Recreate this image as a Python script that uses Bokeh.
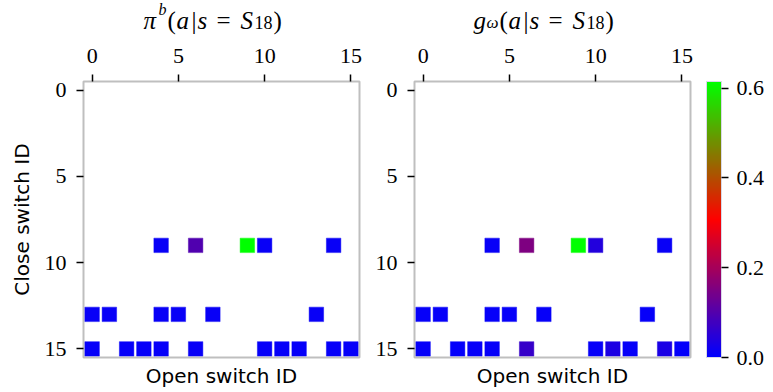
import numpy as np
from bokeh.plotting import figure
from bokeh.models import (ColumnDataSource, LinearColorMapper, ColorBar, FixedTicker,
                          PrintfTickFormatter, Range1d, LinearAxis)
from bokeh.core.properties import value
from bokeh.layouts import row, column
from bokeh.embed import file_html
from bokeh.resources import INLINE

# ---------------- data ----------------
close_switch_ids = [9, 9, 9, 9, 9,
                    13, 13, 13, 13, 13, 13,
                    15, 15, 15, 15, 15, 15, 15, 15, 15, 15]
open_switch_ids = [4, 6, 9, 10, 14,
                   0, 1, 4, 5, 7, 13,
                   0, 2, 3, 4, 6, 10, 11, 12, 14, 15]
pi_b_values = [0.012, 0.098, 0.615, 0.012, 0.012,
               0.010, 0.010, 0.010, 0.010, 0.010, 0.010,
               0.008, 0.008, 0.008, 0.008, 0.010, 0.008, 0.008, 0.008, 0.008, 0.008]
g_omega_values = [0.010, 0.152, 0.615, 0.042, 0.012,
                  0.008, 0.008, 0.008, 0.008, 0.008, 0.008,
                  0.008, 0.006, 0.008, 0.008, 0.065, 0.008, 0.034, 0.008, 0.032, 0.006]
axis_ticks = [0, 5, 10, 15]
colorbar_ticks = [0.0, 0.2, 0.4, 0.6]
value_low, value_high = 0.0, 0.615

# ---------------- colormap (matplotlib "brg") ----------------
def brg(t):
    if t <= 0.5:
        r, g, b = 2 * t, 0.0, 1 - 2 * t
    else:
        r, g, b = 2 - 2 * t, 2 * t - 1, 0.0
    return "#%02x%02x%02x" % (int(round(r * 255)), int(round(g * 255)), int(round(b * 255)))

palette = [brg(i / 255) for i in range(256)]
mapper = LinearColorMapper(palette=palette, low=value_low, high=value_high)

# ---------------- layout constants ----------------
W, H = 773, 392
TITLE_H = 35
FRAME = 276
TOP = 81 - TITLE_H
BOTTOM = H - TITLE_H - TOP - FRAME
SERIF = "Liberation Serif"
SANS = "DejaVu Sans"


def make_panel(vals, left, right, ylabel):
    p = figure(frame_width=FRAME, frame_height=FRAME,
               min_border_left=left, min_border_right=right,
               min_border_top=TOP, min_border_bottom=BOTTOM,
               x_range=Range1d(-0.5, 15.5), y_range=Range1d(15.5, -0.5),
               x_axis_location="above", toolbar_location=None,
               output_backend="svg", title=None)
    p.grid.visible = False
    p.outline_line_color = "#bfbfbf"
    p.outline_line_width = 2
    p.background_fill_color = "white"
    p.border_fill_color = "white"
    for ax in (p.xaxis[0], p.yaxis[0]):
        ax.ticker = FixedTicker(ticks=axis_ticks)
        ax.axis_line_color = None
        ax.major_tick_line_color = "black"
        ax.major_tick_line_width = 1.5
        ax.major_tick_out = 7
        ax.major_tick_in = 0
        ax.minor_tick_line_color = None
        ax.major_label_text_font = SERIF
        ax.major_label_text_font_size = "22px"
        ax.major_label_text_color = "black"
    p.xaxis.major_label_standoff = 12
    p.yaxis.major_label_standoff = 10
    if ylabel:
        p.yaxis.axis_label = ylabel
        p.yaxis.axis_label_text_font = SANS
        p.yaxis.axis_label_text_font_size = "20px"
        p.yaxis.axis_label_text_font_style = "normal"
        p.yaxis.axis_label_text_color = "black"
        p.yaxis.axis_label_standoff = 8

    bottom = LinearAxis(ticker=FixedTicker(ticks=[]), axis_line_color=None,
                        major_tick_line_color=None, minor_tick_line_color=None,
                        major_label_text_font_size="0px", major_tick_out=0,
                        major_tick_in=0, major_label_standoff=0,
                        axis_label="Open switch ID", axis_label_text_font=SANS,
                        axis_label_text_font_size="20px",
                        axis_label_text_font_style="normal",
                        axis_label_text_color="black", axis_label_standoff=6)
    p.add_layout(bottom, "below")

    src = ColumnDataSource(dict(x=open_switch_ids, y=close_switch_ids, v=vals))
    p.rect(x="x", y="y", width=0.84, height=0.84, source=src,
           fill_color={"field": "v", "transform": mapper},
           line_color={"field": "v", "transform": mapper},
           line_alpha=0.45, line_width=1)
    return p


# ---------------- title strip (math-like titles built from pieces) ----------------
BASE = 20
MAIN = "25px"
left_title = [
    ("π", 143, BASE, MAIN, "italic"),
    ("b", 158, BASE - 11, "16px", "italic"),
    ("(", 167, BASE, MAIN, "normal"),
    ("a", 176, BASE, MAIN, "italic"),
    ("|", 191, BASE, MAIN, "normal"),
    ("s", 197, BASE, MAIN, "italic"),
    ("=", 216, BASE, MAIN, "normal"),
    ("S", 240, BASE, MAIN, "italic"),
    ("18", 254, BASE + 2, "18px", "normal"),
    (")", 273, BASE, MAIN, "normal"),
]
right_title = [
    ("g", 473, BASE, MAIN, "italic"),
    ("ω", 486, BASE + 2, "17px", "italic"),
    ("(", 499, BASE, MAIN, "normal"),
    ("a", 508, BASE, MAIN, "italic"),
    ("|", 523, BASE, MAIN, "normal"),
    ("s", 529, BASE, MAIN, "italic"),
    ("=", 548, BASE, MAIN, "normal"),
    ("S", 572, BASE, MAIN, "italic"),
    ("18", 586, BASE + 2, "18px", "normal"),
    (")", 605, BASE, MAIN, "normal"),
]

tfig = figure(frame_width=W, frame_height=TITLE_H, min_border=0,
              x_range=Range1d(0, W), y_range=Range1d(TITLE_H, 0),
              x_axis_type=None, y_axis_type=None, toolbar_location=None,
              output_backend="svg", title=None)
tfig.grid.visible = False
tfig.outline_line_color = None
tfig.background_fill_color = "white"
tfig.border_fill_color = "white"
for txt, px, py, size, style in left_title + right_title:
    tfig.text(x=[px], y=[py], text=[txt], text_font=value(SERIF),
              text_font_size=size, text_font_style=style, text_align="left",
              text_baseline="alphabetic", text_color="black")

p1 = make_panel(pi_b_values, 83, 5, "Close switch ID")
p2 = make_panel(g_omega_values, 50, 83, None)

cb = ColorBar(color_mapper=mapper, ticker=FixedTicker(ticks=colorbar_ticks),
              formatter=PrintfTickFormatter(format="%.1f"),
              width=15, height=FRAME, padding=0, margin=0, location=(16, 0),
              major_label_text_font=SERIF, major_label_text_font_size="22px",
              major_label_text_color="black",
              major_tick_out=7, major_tick_in=0, major_tick_line_color="black",
              major_tick_line_width=1.5, minor_tick_line_color=None,
              bar_line_color="#d8d8e8", bar_line_width=1,
              border_line_color=None, background_fill_color=None,
              label_standoff=8)
p2.add_layout(cb, "right")

layout = column(tfig, row(p1, p2))
open("out.html", "w").write(file_html(layout, INLINE))
